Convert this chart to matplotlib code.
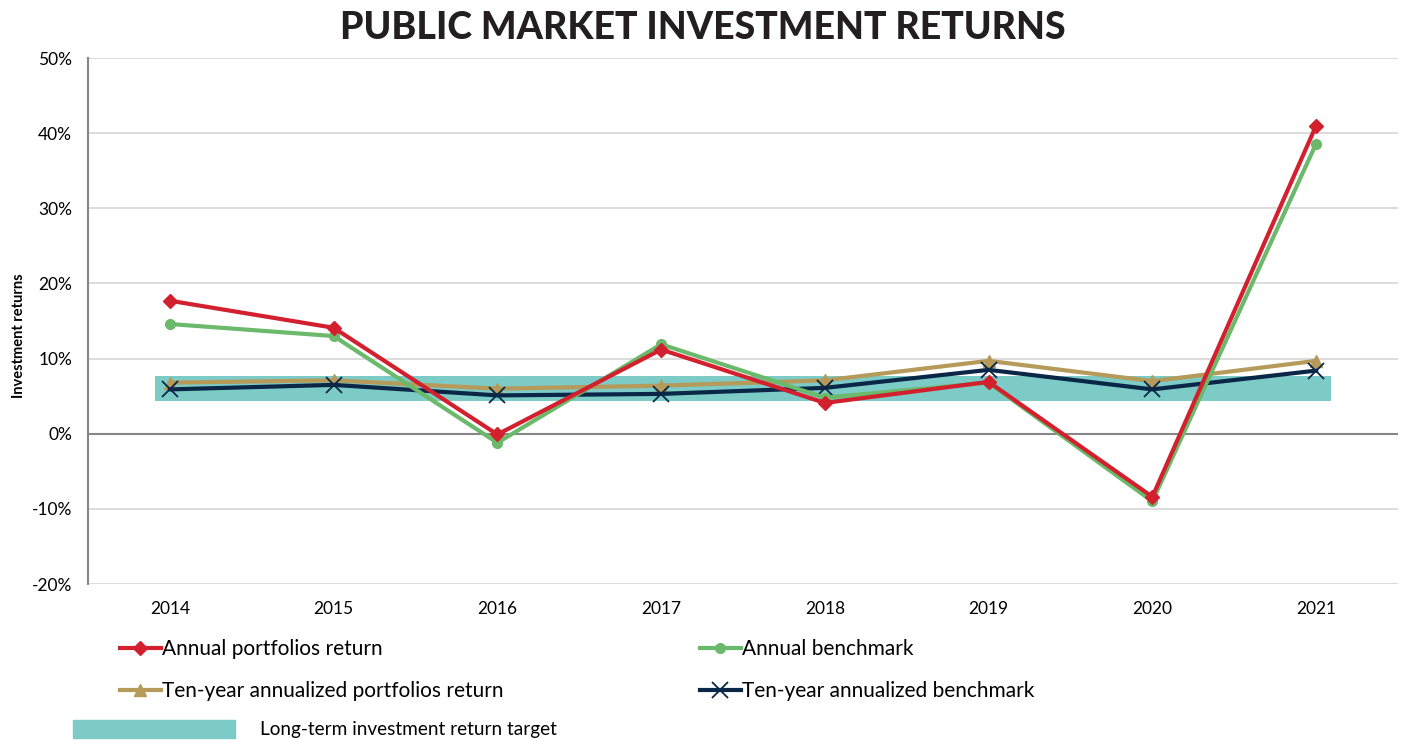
import matplotlib.pyplot as plt
import numpy as np
from matplotlib.lines import Line2D
from matplotlib.patches import Patch

years = ['2014', '2015', '2016', '2017', '2018', '2019', '2020', '2021']
annual_port = [17.7, 14.1, -0.1, 11.2, 4.1, 6.9, -8.4, 41.0]
annual_bench = [14.6, 13.0, -1.2, 11.9, 4.8, 6.8, -9.0, 38.6]
tenyr_port = [6.8, 7.1, 6.0, 6.4, 7.1, 9.7, 7.0, 9.7]
tenyr_bench = [5.9, 6.5, 5.1, 5.3, 6.1, 8.5, 5.9, 8.4]
target_low, target_high = 4.3, 7.7

red = '#D2202F'
green = '#6BB96A'
tan = '#B59A5A'
navy = '#0A2747'
teal = '#7CCBC6'

plt.rcParams['font.family'] = ['Lato', 'DejaVu Sans']

fig = plt.figure(figsize=(14.06, 7.4), dpi=100)
ax = fig.add_axes([0.0626, 0.2108, 0.9317, 0.7108])

x = np.arange(len(years))

ax.fill_between([x[0] - 0.09, x[-1] + 0.09], target_low, target_high,
                color=teal, lw=0, zorder=1)
ax.plot(x, tenyr_port, color=tan, lw=3, marker='^', ms=9, zorder=3)
ax.plot(x, tenyr_bench, color=navy, lw=3, marker='x', ms=11, mew=1.3, zorder=4)
ax.plot(x, annual_bench, color=green, lw=3, marker='o', ms=7, zorder=5)
ax.plot(x, annual_port, color=red, lw=3, marker='D', ms=7, zorder=6)

ax.set_xlim(-0.5, len(years) - 0.5)
ax.set_ylim(-20, 50)
ax.set_yticks(np.arange(-20, 51, 10))
ax.set_yticklabels([f'{v}%' for v in range(-20, 51, 10)], fontsize=12.5)
ax.set_xticks(x)
ax.set_xticklabels(years, fontsize=12.5)
ax.tick_params(axis='y', length=0, pad=11.5)
ax.tick_params(axis='x', length=0, pad=12)
ax.grid(axis='y', color='#D9D9D9', lw=1.3, zorder=0)
ax.set_axisbelow(True)
ax.axhline(0, color='#868686', lw=1.5, zorder=2)
for s in ['top', 'right', 'bottom']:
    ax.spines[s].set_visible(False)
ax.spines['left'].set_color('#868686')
ax.spines['left'].set_linewidth(1.5)

ax.set_ylabel('Investment returns', fontsize=10.5, fontweight='bold')
ax.yaxis.set_label_coords(-0.047, 0.473)

fig.suptitle('PUBLIC MARKET INVESTMENT RETURNS', fontsize=27, fontweight='black',
             color='#231F20', y=0.985)

handles = [
    Line2D([], [], color=red, lw=3, marker='D', ms=7),
    Line2D([], [], color=tan, lw=3, marker='^', ms=9),
    Line2D([], [], color=green, lw=3, marker='o', ms=7),
    Line2D([], [], color=navy, lw=3, marker='x', ms=11, mew=1.3),
]
labels = ['Annual portfolios return', 'Ten-year annualized portfolios return',
          'Annual benchmark', 'Ten-year annualized benchmark']
fig.legend(handles, labels, loc='upper left', bbox_to_anchor=(0.085, 0.136),
           ncol=2, frameon=False, fontsize=15, handlelength=2.0,
           handletextpad=0.05, columnspacing=9.4, labelspacing=1.05,
           borderaxespad=0, borderpad=0)

fig.legend([Patch(color=teal)], ['Long-term investment return target'],
           loc='upper left', bbox_to_anchor=(0.052, 0.0276), frameon=False,
           fontsize=13.7, handlelength=8.5, handleheight=1.12, handletextpad=1.31,
           borderaxespad=0, borderpad=0)

fig.savefig('out.png', dpi=100)
